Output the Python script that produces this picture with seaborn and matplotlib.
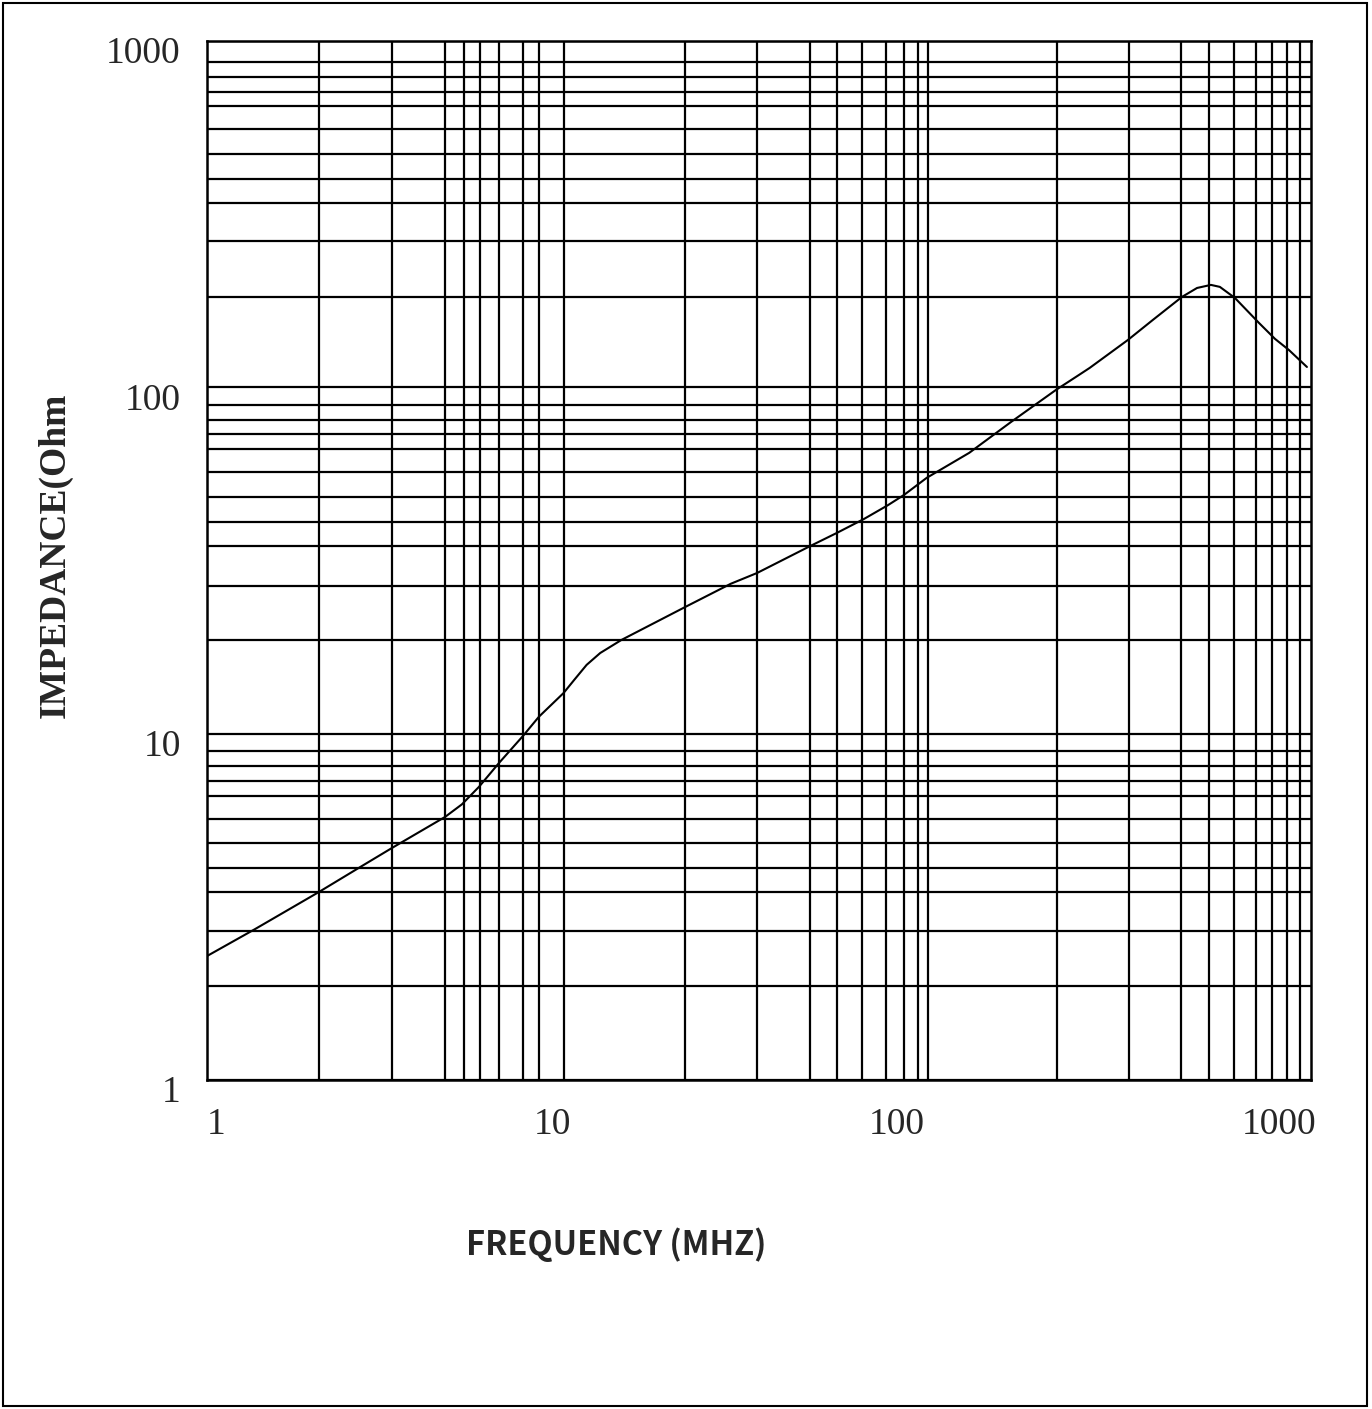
import numpy as np
import pandas as pd
import matplotlib.pyplot as plt
import matplotlib.transforms as mtransforms
from matplotlib.patches import Rectangle
import seaborn as sns

# ==============================
# Datos leídos de la curva de impedancia
# ==============================
freq_mhz = [1.0, 1.38, 2.11, 2.78, 3.44, 4.90, 5.48, 6.14, 7.02, 8.24, 9.17,
            10.8, 11.6, 12.6, 13.8, 15.9, 24.3, 33.0, 39.3, 56.0, 67.0, 80.3,
            94.2, 104.8, 122, 162, 214, 289, 337, 362, 467, 552, 670, 741,
            813, 863, 954, 1120, 1247, 1368, 1543]
impedance_ohm = [2.28, 2.73, 3.49, 4.12, 4.68, 5.75, 6.25, 7.02, 8.23, 9.85, 11.2,
                 13.1, 14.3, 15.8, 17.1, 18.65, 23.2, 27.1, 29.1, 34.8, 38.0, 41.7,
                 45.7, 48.9, 54.8, 64.7, 79.4, 98.3, 108.6, 113.8, 137, 156.6, 182.4, 193.6,
                 197.6, 195, 181.2, 153.5, 138, 128.2, 114.5]

# marcas de los ejes
x_ticks = [1, 10, 100, 1000]
x_tick_labels = ['1', '10', '100', '1000']
y_ticks = [1, 10, 100, 1000]
y_tick_labels = ['1', '10', '100', '1000']

# líneas de la cuadrícula (dibujada a mano en el original, no es exacta)
x_grid = [2.11, 3.44, 4.90, 5.56, 6.19, 7.02, 8.24, 9.17, 10.0, 10.8,
          24.3, 39.3, 56.0, 67.0, 79.2, 92.9, 104.8, 115, 123,
          291, 470, 665, 802, 948, 1098, 1222, 1350, 1472]
y_grid = [1.87, 2.70, 3.49, 4.10, 4.84, 5.67, 6.62, 7.30, 8.07, 8.92,
          18.65, 26.7, 34.8, 40.9, 48.3, 57.0, 66.4, 73.3, 80.5, 89.0,
          182, 265, 341, 400, 472, 557, 650, 713, 788, 870]

# ==============================
# Gráfica
# ==============================
sns.set_style('white')
plt.rcParams['font.family'] = ['Liberation Serif', 'DejaVu Serif']

fig = plt.figure(figsize=(13.72, 14.09), dpi=100)
ax = fig.add_axes([0.1509, 0.2335, 0.8046, 0.7374])

df = pd.DataFrame({'freq': freq_mhz, 'imp': impedance_ohm})
ax.set_xscale('log')
ax.set_yscale('log')
sns.lineplot(data=df, x='freq', y='imp', ax=ax, color='black', lw=1.5,
             sort=False, estimator=None)

ax.set_xlim(1, 1585)
ax.set_ylim(1, 1000)

ax.set_xticks(x_ticks)
ax.set_xticklabels(x_tick_labels, fontsize=27)
ax.set_yticks(y_ticks)
ax.set_yticklabels(y_tick_labels, fontsize=27)
ax.set_xticks(x_grid, minor=True)
ax.set_yticks(y_grid, minor=True)
ax.tick_params(axis='both', which='both', length=0)
ax.tick_params(axis='x', pad=20)
ax.tick_params(axis='y', pad=19)
ax.xaxis.set_minor_formatter(plt.NullFormatter())
ax.yaxis.set_minor_formatter(plt.NullFormatter())

ax.xaxis.grid(False, which='major')
ax.xaxis.grid(True, which='minor', color='black', lw=1.6)
ax.yaxis.grid(True, which='both', color='black', lw=1.6)

for s in ax.spines.values():
    s.set_color('black')
    s.set_linewidth(1.8)

# etiquetas del eje y un poco más abajo, como en el original
offset = mtransforms.ScaledTranslation(0, -0.09, fig.dpi_scale_trans)
for lab in ax.get_yticklabels():
    lab.set_transform(lab.get_transform() + offset)
xl = ax.get_xticklabels()
xl[0].set_ha('left')
xl[-1].set_ha('left')

ax.set_xlabel('')
ax.set_ylabel('')
fig.text(0.040, 1 - 555 / 1409, 'IMPEDANCE(Ohm', rotation=90, fontsize=27,
         fontweight='bold', ha='center', va='center')
fig.text(616 / 1372, 1 - 1245 / 1409, 'FREQUENCY (MHZ)', fontsize=23.5,
         fontweight='bold', ha='center', va='center',
         family=['Noto Sans CJK JP', 'DejaVu Sans'])

# marco exterior
fig.patches.append(Rectangle((0.002, 0.002), 0.994, 0.996, transform=fig.transFigure,
                             fill=False, ec='black', lw=1.5))

fig.savefig('out.png', dpi=100)
